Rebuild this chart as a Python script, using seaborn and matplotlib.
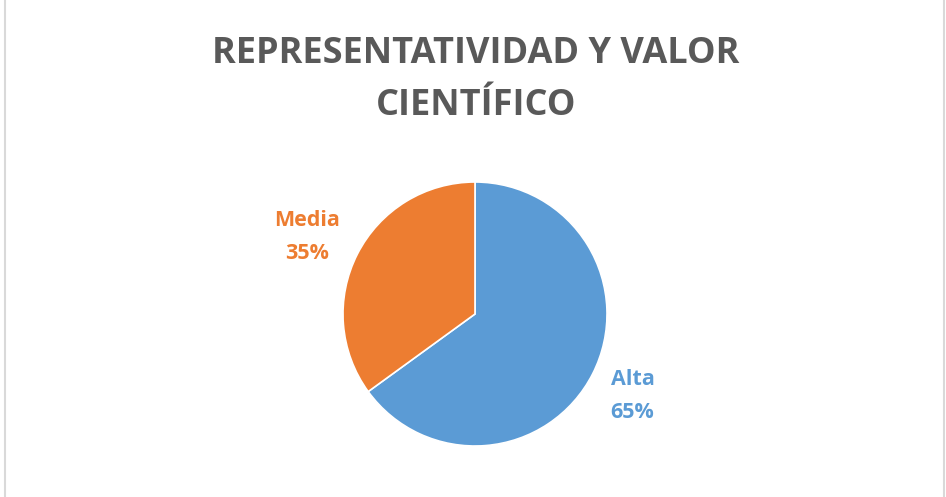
import numpy as np
import matplotlib
matplotlib.use("Agg")
import matplotlib.pyplot as plt
import seaborn as sns
from matplotlib.lines import Line2D

sns.set_theme(style="white")
plt.rcParams['font.family'] = ['Open Sans', 'DejaVu Sans']

# data
categories = ["Alta", "Media"]
shares = [65, 35]
colors = ["#5B9BD5", "#ED7D31"]
title = "REPRESENTATIVIDAD Y VALOR\nCIENTÍFICO"

W, H = 946, 497
fig = plt.figure(figsize=(W / 100, H / 100), dpi=100)
fig.patch.set_facecolor("white")

# pie axes: centre (475, 314), radius 132 px
cx, cy, r = 475, 314, 132
ax = fig.add_axes([(cx - r) / W, (H - cy - r) / H, 2 * r / W, 2 * r / H])
wedges, _ = ax.pie(shares, colors=colors, startangle=90, counterclock=False,
                   wedgeprops=dict(edgecolor="white", linewidth=1.2))
ax.set_xlim(-1, 1)
ax.set_ylim(-1, 1)
ax.set_aspect("equal")
ax.axis("off")

# labels outside each wedge
dists = [1.34, 1.43]
shifts = [(0, -1), (0, -6)]
for w, cat, val, col, d, sh in zip(wedges, categories, shares, colors, dists, shifts):
    mid = np.deg2rad((w.theta1 + w.theta2) / 2)
    ax.annotate(f"{cat}\n{val}%", xy=(d * np.cos(mid), d * np.sin(mid)),
                xytext=sh, textcoords="offset points", color=col,
                fontsize=15.5, fontweight="bold", ha="center", va="center",
                linespacing=1.75, annotation_clip=False)

fig.text(476 / W, 1 - 80 / H, title, ha="center", va="center", fontsize=26,
         fontweight="bold", color="#595959", linespacing=1.6)

# thin grey frame at the sides
for x in (4.5 / W, 943.5 / W):
    fig.add_artist(Line2D([x, x], [0, 1], transform=fig.transFigure,
                          color="#D9D9D9", linewidth=1.5))

fig.savefig("out.png", dpi=100, facecolor="white")
plt.close(fig)
